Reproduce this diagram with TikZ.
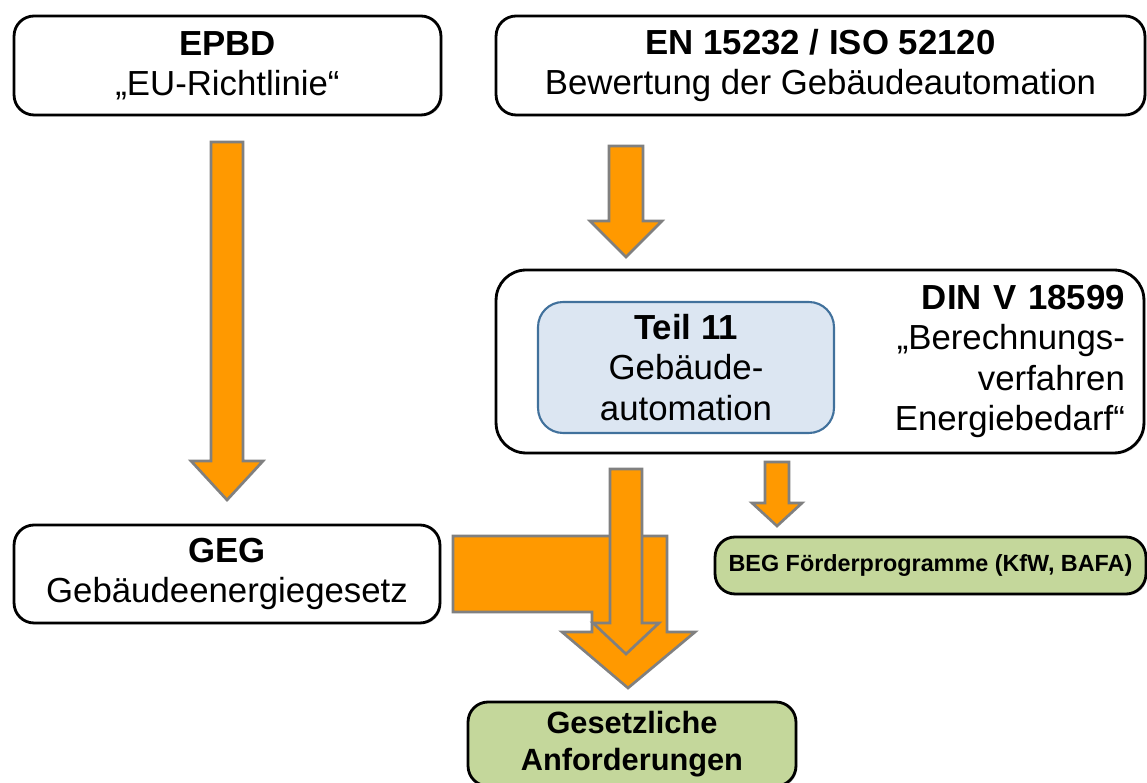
\documentclass[tikz,border=0pt]{standalone}
\usepackage{fontspec}
\setmainfont{Liberation Sans}
\usetikzlibrary{shadows}
\definecolor{pfeil}{RGB}{255,153,0}
\definecolor{pfeilrand}{RGB}{128,128,128}
\definecolor{gruen}{RGB}{196,215,155}
\definecolor{hellblau}{RGB}{220,230,242}
\definecolor{blaurand}{RGB}{65,113,156}
\tikzset{
    kasten/.style={draw=black,line width=1.6pt,rounded corners=0.4cm,fill=white,align=center,
        font=\fontsize{19.8}{23}\selectfont,
        drop shadow={opacity=0.35,shadow xshift=0.8pt,shadow yshift=-0.8pt}},
    gruenkasten/.style={kasten,fill=gruen},
    teilkasten/.style={draw=blaurand,line width=1.2pt,rounded corners=0.5cm,fill=hellblau,align=center,
        font=\fontsize{19.8}{23}\selectfont},
    pfeilstil/.style={fill=pfeil,draw=pfeilrand,line width=1.5pt,line join=miter,
        drop shadow={opacity=0.2,shadow xshift=0.6pt,shadow yshift=-0.6pt}}
}
\begin{document}
\begin{tikzpicture}[x=0.02cm,y=-0.02cm]
        \useasboundingbox (0,0) rectangle (1147,783);
        % Kaesten
        \node[kasten,minimum width=8.54cm,minimum height=1.98cm](epbd) at (227.5,65.5){\textbf{EPBD}\\„EU-Richtlinie“};
        \node[kasten,minimum width=12.98cm,minimum height=1.98cm](en) at (820.5,65.5){\textbf{EN 15232 / ISO 52120}\\Bewertung der Gebäudeautomation};
        \node[kasten,minimum height=3.66cm,rounded corners=0.6cm,text width=12.2cm,inner xsep=0.38cm,align=right](din) at (820,361.5){\textbf{DIN V 18599}\\„Berechnungs-\\verfahren\\Energiebedarf“};
        \node[teilkasten,minimum width=5.92cm,minimum height=2.62cm](teil) at (686,367.5){\textbf{Teil 11}\\Gebäude-\\automation};
        \node[kasten,minimum width=8.52cm,minimum height=1.96cm](geg) at (227,574){\textbf{GEG}\\Gebäudeenergiegesetz};
        \node[gruenkasten,minimum width=8.62cm,minimum height=1.14cm,font=\bfseries\fontsize{13.3}{16}\selectfont](beg) at (930.5,565.5){BEG Förderprogramme (KfW, BAFA)};
        \node[gruenkasten,minimum width=6.56cm,minimum height=1.68cm,font=\bfseries\fontsize{17.5}{21}\selectfont](gesetz) at (632,744){Gesetzliche\\Anforderungen};
        % Pfeile
        \draw[pfeilstil](453,536)--(667,536)--(667,632)--(695,632)--(628,688)--(562,632)--(592,632)--(592,612)--(453,612)--cycle;
        \foreach \cx/\ya/\yb/\yc/\s/\k in {
        227/142/461/500/16/36,
        626/146/221/257/17/36,
        626/469/623/654/16/33,
        777/462/503/526/12/25}{
            \draw[pfeilstil](\cx-\s,\ya)--(\cx+\s,\ya)--(\cx+\s,\yb)--(\cx+\k,\yb)--(\cx,\yc)--(\cx-\k,\yb)--(\cx-\s,\yb)--cycle;
        }
    \end{tikzpicture}
\end{document}
